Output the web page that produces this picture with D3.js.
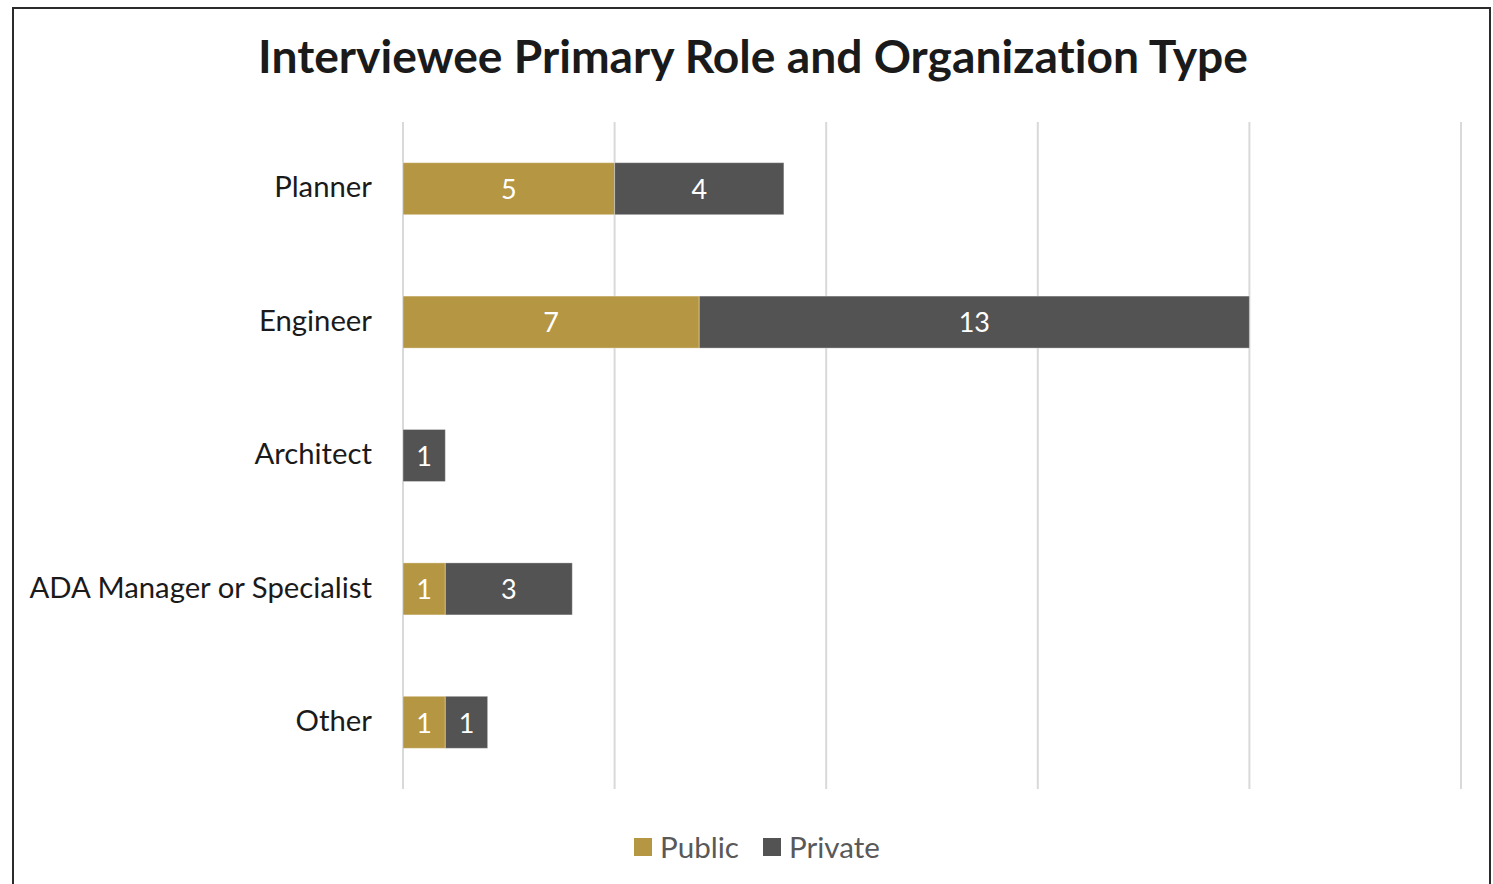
<!DOCTYPE html>
<html>
<head>
<meta charset="utf-8">
<script src="https://cdn.jsdelivr.net/npm/d3@7/dist/d3.min.js"></script>
<style>
  html, body { margin: 0; padding: 0; background: #fff; }
  svg { display: block; font-family: Lato, "Open Sans", sans-serif; font-variant-ligatures: none; font-feature-settings: "liga" 0, "dlig" 0; }
</style>
</head>
<body>
<svg id="chart" width="1493" height="884"></svg>
<script>
// Roles (top to bottom) and interviewee counts by organization type
const roles = ["Planner", "Engineer", "Architect", "ADA Manager or Specialist", "Other"];
const publicCounts = [5, 7, 0, 1, 1];
const privateCounts = [4, 13, 1, 3, 1];
const seriesNames = ["Public", "Private"];
const seriesColors = ["#B59642", "#535353"];
const xTicks = [0, 5, 10, 15, 20, 25];

const svg = d3.select("#chart");

// outer frame
svg.append("rect")
  .attr("x", 13).attr("y", 8)
  .attr("width", 1477).attr("height", 900)
  .attr("fill", "none").attr("stroke", "#2b2b2b").attr("stroke-width", 2);

// title
svg.append("text")
  .attr("x", 753).attr("y", 73)
  .attr("text-anchor", "middle")
  .attr("font-size", 46.2).attr("font-weight", "bold")
  .attr("fill", "#1a1a1a")
  .text("Interviewee Primary Role and Organization Type");

const plot = { left: 403, right: 1461, top: 122, bottom: 789 };

const x = d3.scaleLinear().domain([0, 25]).range([plot.left, plot.right]);
const y = d3.scaleBand().domain(roles).range([plot.top, plot.bottom]).paddingInner(0.61).paddingOuter(0.305);

// vertical gridlines
svg.append("g").selectAll("line")
  .data(xTicks).join("line")
  .attr("x1", d => x(d)).attr("x2", d => x(d))
  .attr("y1", plot.top).attr("y2", plot.bottom)
  .attr("stroke", "#d9d9d9").attr("stroke-width", 2);

// stacked segments
const rows = roles.map((r, i) => ({ role: r, Public: publicCounts[i], Private: privateCounts[i] }));
const stacked = d3.stack().keys(seriesNames)(rows);

stacked.forEach((layer, li) => {
  const g = svg.append("g");
  const segs = layer.map(d => ({ role: d.data.role, x0: d[0], x1: d[1], v: d[1] - d[0] })).filter(d => d.v > 0);
  g.selectAll("rect").data(segs).join("rect")
    .attr("x", d => x(d.x0))
    .attr("y", d => y(d.role))
    .attr("width", d => x(d.x1) - x(d.x0))
    .attr("height", y.bandwidth())
    .attr("fill", seriesColors[li])
    .attr("stroke", "#ffffff").attr("stroke-opacity", 0.35).attr("stroke-width", 1);
  g.selectAll("text").data(segs).join("text")
    .attr("x", d => (x(d.x0) + x(d.x1)) / 2)
    .attr("y", d => y(d.role) + y.bandwidth() / 2)
    .attr("dy", "0.38em")
    .attr("text-anchor", "middle")
    .attr("font-size", 27)
    .attr("fill", "#ffffff")
    .text(d => d.v);
});

// category axis labels
svg.append("g").selectAll("text")
  .data(roles).join("text")
  .attr("x", 372)
  .attr("y", d => y(d) + y.bandwidth() / 2)
  .attr("dy", "0.3em")
  .attr("text-anchor", "end")
  .attr("font-size", 29.3)
  .attr("fill", "#1a1a1a")
  .text(d => d);

// legend
const legendItems = [
  { name: seriesNames[0], color: seriesColors[0], x: 634 },
  { name: seriesNames[1], color: seriesColors[1], x: 763 }
];
const lg = svg.append("g");
legendItems.forEach(it => {
  lg.append("rect").attr("x", it.x).attr("y", 838).attr("width", 18).attr("height", 18).attr("fill", it.color);
  lg.append("text").attr("x", it.x + 26).attr("y", 847).attr("dy", "0.36em")
    .attr("font-size", 29.6).attr("fill", "#595959").text(it.name);
});
</script>
</body>
</html>
